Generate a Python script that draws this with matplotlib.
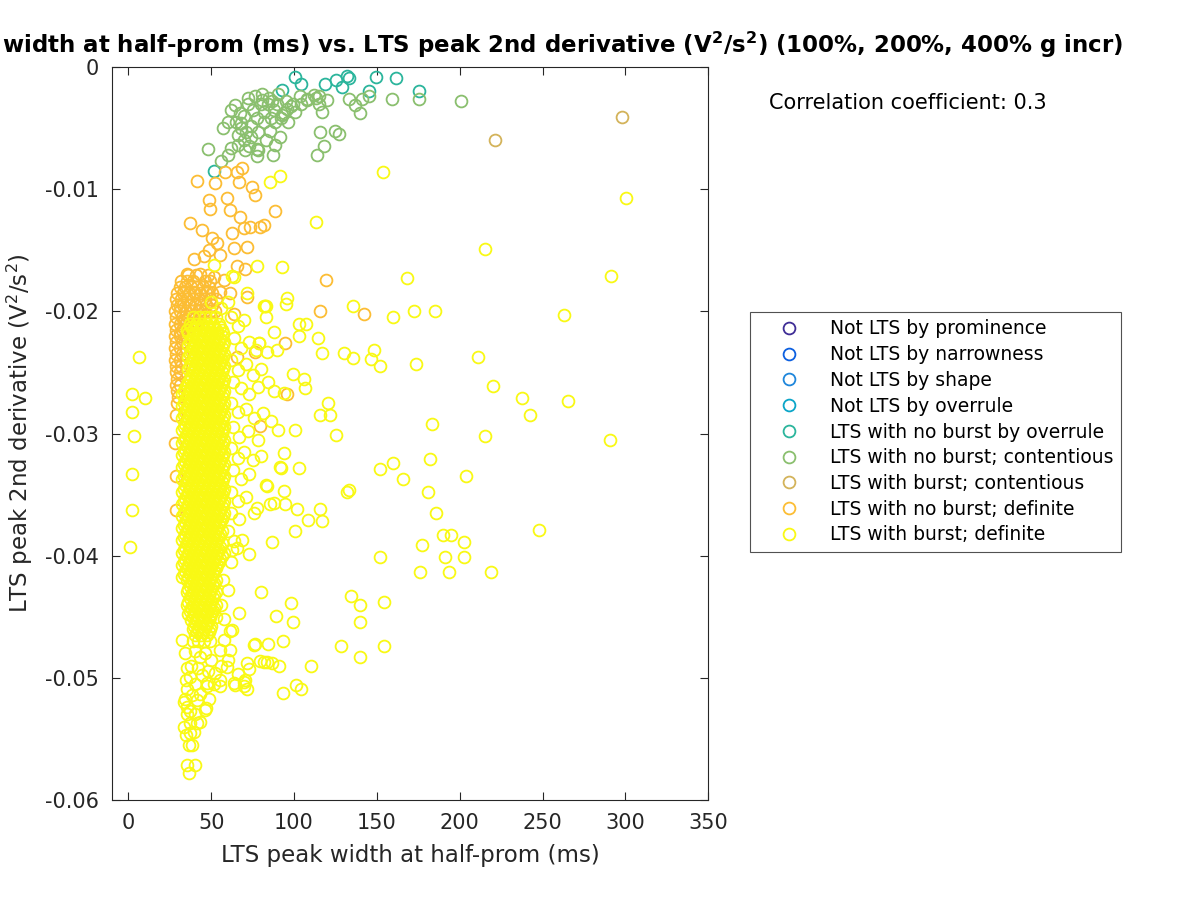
import matplotlib
matplotlib.use("Agg")
import matplotlib.pyplot as plt

# ---- data ----
# legend order: (label, colour)
class_labels = [
    "Not LTS by prominence",
    "Not LTS by narrowness",
    "Not LTS by shape",
    "Not LTS by overrule",
    "LTS with no burst by overrule",
    "LTS with no burst; contentious",
    "LTS with burst; contentious",
    "LTS with no burst; definite",
    "LTS with burst; definite",
]
class_colors = ["#3f2d96", "#0b5fe0", "#1e86db", "#0aa5c8", "#2bb59c",
                "#8abf6e", "#d3b35a", "#fcbd34", "#f9f914"]

# the first four classes have no points in this data set
not_lts_prominence = []
not_lts_narrowness = []
not_lts_shape = []
not_lts_overrule = []

# LTS with no burst by overrule (width ms, 2nd derivative V^2/s^2)
lts_noburst_overrule = [
    (100.4, -0.0008), (104, -0.0014), (92.5, -0.0019), (118.6, -0.0014),
    (125.3, -0.0011), (129, -0.0016), (132, -0.0007), (133, -0.0009),
    (149.6, -0.0008), (161.7, -0.0009), (145.3, -0.0020), (175.7, -0.0020),
    (52, -0.0085),
]

# LTS with no burst; contentious
lts_noburst_contentious = [
    (48.1, -0.0067), (57.2, -0.0050), (60.2, -0.0072), (64.2, -0.0031),
    (67.2, -0.0038), (68.3, -0.0046), (72.3, -0.0030), (71.3, -0.0053),
    (66.3, -0.0064), (70.3, -0.0068), (76.3, -0.0024), (80.4, -0.0022),
    (77.4, -0.0042), (78.4, -0.0053), (77.4, -0.0067), (77.4, -0.0073),
    (84.5, -0.0030), (86.5, -0.0028), (88.5, -0.0045), (85.4, -0.0052),
    (88.5, -0.0064), (87.5, -0.0072), (91.5, -0.0057), (92.5, -0.0039),
    (95.6, -0.0034), (96.6, -0.0045), (100.6, -0.0037), (103.6, -0.0024),
    (107.7, -0.0026), (111.8, -0.0023), (114.8, -0.0024), (116.8, -0.0037),
    (115.8, -0.0053), (117.8, -0.0065), (113.8, -0.0072), (124.9, -0.0052),
    (126.9, -0.0055), (133, -0.0026), (137, -0.0031), (140, -0.0038),
    (141, -0.0026), (145.1, -0.0024), (159.3, -0.0026), (175.5, -0.0026),
    (99.6, -0.0030), (90.5, -0.0022), (80.4, -0.0027), (200.5, -0.0028),
    (62, -0.0035), (65, -0.0045), (70, -0.0040), (74, -0.0048),
    (75, -0.0035), (80, -0.0030), (82, -0.0045), (83, -0.0060),
    (88, -0.0035), (90, -0.0030), (92, -0.0042), (70, -0.0060),
    (73, -0.0065), (78, -0.0068), (66, -0.0056), (62, -0.0066),
    (56, -0.0077), (85, -0.0025), (95, -0.0028), (98, -0.0032),
    (104, -0.0030), (108, -0.0027), (113, -0.0025), (115, -0.0030),
    (120, -0.0027), (60, -0.0045), (68, -0.0050), (74, -0.0057),
    (82, -0.0037), (86, -0.0042), (94, -0.0038), (72, -0.0025),
]

# LTS with burst; contentious
lts_burst_contentious = [(298, -0.0041), (221.3, -0.0060)]

# LTS with no burst; definite -- scattered points
lts_noburst_definite = [
    (41.5, -0.0093), (48.5, -0.0109), (49.5, -0.0116), (52.5, -0.0095),
    (58.5, -0.0086), (59.6, -0.0107), (61.6, -0.0117), (65.6, -0.0086),
    (68.6, -0.0083), (66.6, -0.0094), (74.7, -0.0098), (76.6, -0.0105),
    (67.6, -0.0123), (62.6, -0.0136), (69.6, -0.0132), (73.6, -0.0131),
    (79.7, -0.0131), (37.4, -0.0128), (44.5, -0.0133), (50.5, -0.0140),
    (53.5, -0.0144), (48.5, -0.0150), (39.4, -0.0157), (45.4, -0.0155),
    (55.5, -0.0154), (63.5, -0.0148), (71.6, -0.0147), (65.6, -0.0163),
    (70.6, -0.0165), (35.4, -0.0169), (43.5, -0.0169), (51.5, -0.0172),
    (57.5, -0.0174), (33.4, -0.0183), (39.4, -0.0184), (47.5, -0.0183),
    (55.5, -0.0184), (61.6, -0.0185), (31.4, -0.0196), (37.4, -0.0195),
    (43.5, -0.0199), (33.4, -0.0207), (39.4, -0.0210), (31.4, -0.0218),
    (63.5, -0.0202), (71.6, -0.0188), (115.5, -0.0200), (142, -0.0202),
    (119, -0.0174), (88.7, -0.0118), (81.7, -0.0129), (94.7, -0.0226),
    (76.6, -0.0233), (95.8, -0.0268), (79.7, -0.0294), (65.6, -0.0237),
    (28.5, -0.0335), (28.5, -0.0363), (28.4, -0.0308), (29, -0.0285),
]
# LTS with no burst; definite -- the packed band left of the main cluster
noburst_definite_rows = [
    (-0.0170, [36, 41, 48]),
    (-0.0175, [32, 35.5, 39, 46, 49.5]),
    (-0.0180, [31, 34.5, 38, 41.5, 45, 48.5]),
    (-0.0185, [29.5, 33, 36.5, 40, 43.5, 47, 50.5]),
    (-0.0190, [28.5, 32, 35.5, 39, 42.5, 46, 49.5, 53]),
    (-0.0195, [29.5, 33, 36.5, 40, 43.5, 47, 50.5]),
    (-0.0200, [28, 31.5, 35, 38.5, 42, 45.5, 49, 52.5]),
    (-0.0205, [29, 32.5, 36, 39.5, 43, 46.5, 50]),
    (-0.0210, [28, 31.5, 35, 38.5, 42]),
    (-0.0215, [29, 32.5, 36]),
    (-0.0220, [28, 31.5, 35]),
    (-0.0225, [29, 32.5]),
    (-0.0230, [28, 31.5]),
    (-0.0235, [29, 32.5]),
    (-0.0240, [28, 31.5]),
    (-0.0245, [29, 32]),
    (-0.0250, [28.5, 31.5]),
    (-0.0255, [29.5]),
    (-0.0260, [28.5, 31.5]),
    (-0.0265, [29.5]),
    (-0.0270, [30]),
    (-0.0275, [29.5]),
]

# LTS with burst; definite -- scattered points
lts_burst_definite = [
    (262.7, -0.0203), (211, -0.0237), (219.8, -0.0261), (237.6, -0.0271),
    (265.1, -0.0273), (242.6, -0.0285), (290.5, -0.0305), (215.1, -0.0302),
    (183.3, -0.0292), (173.4, -0.0243), (184.9, -0.0200), (172.2, -0.0200),
    (159.5, -0.0205), (135.4, -0.0196), (148.1, -0.0232), (146.6, -0.0239),
    (152.1, -0.0245), (135.6, -0.0238), (130.4, -0.0234), (116.9, -0.0234),
    (114.2, -0.0222), (103, -0.0210), (107, -0.0210), (87.7, -0.0217),
    (83.1, -0.0196), (83.1, -0.0205), (95.4, -0.0194), (79.1, -0.0226),
    (103, -0.0220), (99.4, -0.0251), (105.8, -0.0255), (106.8, -0.0263),
    (120.7, -0.0275), (115.5, -0.0285), (121.9, -0.0285), (125.5, -0.0301),
    (100.4, -0.0297), (90.3, -0.0297), (94.1, -0.0316), (92.1, -0.0328),
    (103, -0.0328), (83.1, -0.0342), (94.1, -0.0347), (85.3, -0.0358),
    (94.7, -0.0358), (101.8, -0.0362), (115.5, -0.0362), (116.9, -0.0372),
    (100.4, -0.0380), (108.2, -0.0371), (86.5, -0.0389), (72.6, -0.0399),
    (132, -0.0348), (133.4, -0.0346), (152.1, -0.0329), (159.7, -0.0324),
    (165.8, -0.0337), (182.3, -0.0321), (181, -0.0348), (185.9, -0.0365),
    (203.6, -0.0335), (189.7, -0.0383), (194.9, -0.0383), (202.4, -0.0389),
    (177.2, -0.0391), (152.1, -0.0401), (191.1, -0.0401), (202.4, -0.0401),
    (247.6, -0.0379), (175.8, -0.0413), (193.5, -0.0413), (218.9, -0.0413),
    (80.3, -0.0430), (98, -0.0439), (89.3, -0.0449), (99.4, -0.0454),
    (66.6, -0.0447), (134.6, -0.0433), (139.6, -0.0440), (154.5, -0.0438),
    (139.6, -0.0454), (93.1, -0.0470), (76.6, -0.0472), (84.3, -0.0472),
    (128.4, -0.0474), (154.5, -0.0474), (139.6, -0.0483), (79.7, -0.0486),
    (83.7, -0.0487), (86.7, -0.0488), (90.7, -0.0490), (110.4, -0.0490),
    (71.6, -0.0488), (72.6, -0.0493), (70.6, -0.0502), (71.6, -0.0509),
    (93.1, -0.0512), (101.1, -0.0506), (104.2, -0.0509),
    (153.5, -0.0086), (300.4, -0.0107), (215, -0.0149), (291.5, -0.0171),
    (113, -0.0127), (91.7, -0.0089), (85.7, -0.0094), (168.2, -0.0173),
    (92.8, -0.0164), (77.7, -0.0163), (63.5, -0.0172), (51.5, -0.0162),
    (95.8, -0.0189), (82.7, -0.0196), (62.6, -0.0171), (71.6, -0.0185),
    (81.7, -0.0196), (50, -0.0192), (56, -0.0197), (60, -0.0192),
    # near-zero widths
    (6.2, -0.0237), (2.2, -0.0268), (9.8, -0.0271), (2.2, -0.0282),
    (3.6, -0.0302), (2.2, -0.0333), (2.2, -0.0363), (1.2, -0.0393),
    # tail below the main cluster
    (35.4, -0.0571), (40.4, -0.0571), (36.4, -0.0578), (36.4, -0.0555),
    (34.7, -0.0547), (39.4, -0.0544), (43.5, -0.0536), (35.4, -0.0524),
    (46.7, -0.0525), (34.7, -0.0502), (47.5, -0.0504), (55.5, -0.0502),
    (63.5, -0.0504), (34.4, -0.0480), (43.5, -0.0483), (55.5, -0.0477),
    (61.6, -0.0462), (57.5, -0.0469), (62.6, -0.0461), (75.6, -0.0473),
    (81.7, -0.0487), (64.6, -0.0506), (55.5, -0.0507), (46.5, -0.0526),
    (41.5, -0.0537), (35.4, -0.0530), (34.4, -0.0517), (38.4, -0.0514),
    (43.5, -0.0513), (35.4, -0.0492), (32.4, -0.0469), (61.6, -0.0477),
    (59.6, -0.0491), (52.5, -0.0496), (44.5, -0.0498), (37.4, -0.0499),
    (35.4, -0.0509), (47.5, -0.0507), (41.5, -0.0518), (48.5, -0.0517),
    (37.4, -0.0537), (38.4, -0.0555), (69.6, -0.0507), (69.6, -0.0503),
    (40, -0.0478), (46, -0.0480), (50, -0.0485), (38, -0.0490),
    (42, -0.0492), (48, -0.0494), (56, -0.0490), (60, -0.0485),
    (66, -0.0497), (52, -0.0505), (40, -0.0505), (33.5, -0.0520),
    (37, -0.0527), (33.5, -0.0540), (37.5, -0.0545), (40, -0.0530),
    # right flank of the main cluster
    (78.6, -0.0226), (83.7, -0.0233), (89.7, -0.0232), (93.7, -0.0267),
    (91.7, -0.0327), (83.7, -0.0343), (87.7, -0.0357), (77.7, -0.0361),
    (75.6, -0.0365), (65.6, -0.0394), (68.6, -0.0387), (62.6, -0.0395),
    (62, -0.0205), (66, -0.0212), (70, -0.0207), (64, -0.0222),
    (68, -0.0230), (73, -0.0225), (77, -0.0232), (62, -0.0240),
    (66, -0.0248), (71, -0.0243), (75, -0.0252), (80, -0.0247),
    (63, -0.0258), (68, -0.0263), (73, -0.0268), (78, -0.0262),
    (84, -0.0258), (88, -0.0265), (62, -0.0275), (66, -0.0282),
    (71, -0.0280), (76, -0.0287), (81, -0.0283), (86, -0.0290),
    (63, -0.0295), (67, -0.0303), (72, -0.0298), (78, -0.0305),
    (62, -0.0312), (66, -0.0320), (70, -0.0315), (75, -0.0322),
    (80, -0.0318), (63, -0.0330), (68, -0.0337), (73, -0.0333),
    (62, -0.0348), (66, -0.0355), (71, -0.0352), (62, -0.0365),
    (67, -0.0370), (60, -0.0380), (64, -0.0388), (58, -0.0398),
    (62, -0.0405), (57, -0.0420), (60, -0.0428), (56, -0.0440),
    (58, -0.0452),
]
# LTS with burst; definite -- the solid core of the cluster, row by row
core_row_a = [33.5, 37, 40.5, 44, 47.5, 51, 54.5, 58]
core_row_b = [35.25, 38.75, 42.25, 45.75, 49.25, 52.75, 56.25]
core_row_c = [34.4, 37.9, 41.4, 44.9, 48.4, 51.9, 55.4]
core_row_d = [32.6, 36.1, 39.6, 43.1, 46.6, 50.1, 53.6, 57.1]
core_top_a = [37, 40.5, 44, 47.5, 51, 54.5, 58]
core_top_b = [38.75, 42.25, 45.75, 49.25, 52.75, 56.25]
core_top_c = [37.9, 41.4, 44.9, 48.4, 51.9, 55.4]
core_top_d = [36.1, 39.6, 43.1, 46.6, 50.1, 53.6, 57.1]
core_low_a = [37, 40.5, 44, 47.5, 51]
core_low_b = [35.25, 38.75, 42.25, 45.75, 49.25, 52.75]
core_low_c = [37.9, 41.4, 44.9, 48.4, 51.9]
core_low_d = [36.1, 39.6, 43.1, 46.6, 50.1]
core_tip_a = [40.5, 44, 47.5]
core_tip_b = [38.75, 42.25, 45.75, 49.25]
burst_definite_rows = [
    (-0.0205, [39, 42.5, 46, 49.5, 53]),
    (-0.0210, [37.25, 40.75, 44.25, 47.75, 51.25, 54.75]),
    (-0.0215, [35.5, 39, 42.5, 46, 49.5, 53, 56.5]),
    (-0.0220, core_top_b), (-0.0225, core_top_a),
    (-0.0230, core_top_b), (-0.0235, core_top_a),
    (-0.0240, core_top_b), (-0.0245, core_top_a),
    (-0.0250, core_top_b), (-0.0255, core_top_a),
    (-0.0260, core_row_b), (-0.0265, core_row_a),
    (-0.0270, core_row_b), (-0.0275, core_row_a),
    (-0.0280, core_row_b), (-0.0285, core_row_a),
    (-0.0290, core_row_b), (-0.0295, core_row_a),
    (-0.0300, core_row_b), (-0.0305, core_row_a),
    (-0.0310, core_row_b), (-0.0315, core_row_a),
    (-0.0320, core_row_b), (-0.0325, core_row_a),
    (-0.0330, core_row_b), (-0.0335, core_row_a),
    (-0.0340, core_row_b), (-0.0345, core_row_a),
    (-0.0350, core_row_b), (-0.0355, core_row_a),
    (-0.0360, core_row_b), (-0.0365, core_row_a),
    (-0.0370, core_row_b), (-0.0375, core_row_a[:-1]),
    (-0.0380, core_row_b), (-0.0385, core_row_a[:-1]),
    (-0.0390, core_row_b), (-0.0395, core_row_a[:-1]),
    (-0.0400, core_row_b), (-0.0405, core_row_a[:-1]),
    (-0.0410, core_row_b[:-1]), (-0.0415, core_row_a[:-2]),
    (-0.0420, core_low_b), (-0.0425, core_low_a),
    (-0.0430, core_low_b), (-0.0435, core_low_a),
    (-0.0440, core_low_b), (-0.0445, core_low_a),
    (-0.0450, core_low_b[1:]), (-0.0455, core_tip_a),
    (-0.0460, core_tip_b), (-0.0465, core_tip_a),
    (-0.0470, core_tip_b),
]
# extra in-between rows that close the gaps of the packed core
burst_definite_fill_rows = [
    (-0.02125, core_top_c), (-0.02175, core_top_d),
    (-0.02225, core_top_c), (-0.02275, core_top_d),
    (-0.02325, core_top_c), (-0.02375, core_top_d),
    (-0.02425, core_top_c), (-0.02475, core_top_d),
    (-0.02525, core_top_c), (-0.02575, core_top_d),
    (-0.02625, core_row_c), (-0.02675, core_row_d),
    (-0.02725, core_row_c), (-0.02775, core_row_d),
    (-0.02825, core_row_c), (-0.02875, core_row_d),
    (-0.02925, core_row_c), (-0.02975, core_row_d),
    (-0.03025, core_row_c), (-0.03075, core_row_d),
    (-0.03125, core_row_c), (-0.03175, core_row_d),
    (-0.03225, core_row_c), (-0.03275, core_row_d),
    (-0.03325, core_row_c), (-0.03375, core_row_d),
    (-0.03425, core_row_c), (-0.03475, core_row_d),
    (-0.03525, core_row_c), (-0.03575, core_row_d),
    (-0.03625, core_row_c), (-0.03675, core_row_d),
    (-0.03725, core_row_c), (-0.03775, core_row_d[:-1]),
    (-0.03825, core_row_c), (-0.03875, core_row_d[:-1]),
    (-0.03925, core_row_c), (-0.03975, core_row_d[:-1]),
    (-0.04025, core_row_c), (-0.04075, core_row_d[:-1]),
    (-0.04125, core_row_c[:-1]), (-0.04175, core_row_d[:-2]),
    (-0.04225, core_low_c), (-0.04275, core_low_d),
    (-0.04325, core_low_c), (-0.04375, core_low_d),
    (-0.04425, core_low_c), (-0.04475, core_low_d),
    (-0.04525, core_low_c[:-1]), (-0.04575, core_low_d[1:]),
    (-0.04625, core_low_c[1:-1]),
]

corr_coef = 0.3


def rows_to_points(rows):
    pts = []
    for y, xs in rows:
        for x in xs:
            pts.append((x, y))
    return pts


def main():
    plt.rcParams["font.family"] = "DejaVu Sans"
    plt.rcParams["axes.unicode_minus"] = False
    plt.rcParams["mathtext.default"] = "regular"
    text_col = "#262626"

    fig = plt.figure(figsize=(12, 9), dpi=100)
    ax = fig.add_axes([0.0931, 0.1111, 0.4972, 0.8144])

    series = [
        not_lts_prominence,
        not_lts_narrowness,
        not_lts_shape,
        not_lts_overrule,
        lts_noburst_overrule,
        lts_noburst_contentious,
        lts_burst_contentious,
        rows_to_points(noburst_definite_rows) + lts_noburst_definite,
        (rows_to_points(burst_definite_rows)
         + rows_to_points(burst_definite_fill_rows) + lts_burst_definite),
    ]

    handles = []
    for pts, label, col in zip(series, class_labels, class_colors):
        xs = [p[0] for p in pts]
        ys = [p[1] for p in pts]
        h, = ax.plot(xs, ys, linestyle="none", marker="o", markersize=8.5,
                     markerfacecolor="none", markeredgecolor=col,
                     markeredgewidth=1.3, label=label)
        handles.append(h)

    # axes styling (MATLAB-like box with inward ticks)
    ax.set_xlim(-10, 350)
    ax.set_ylim(-0.06, 0)
    ax.set_xticks([0, 50, 100, 150, 200, 250, 300, 350])
    ax.set_yticks([-0.06, -0.05, -0.04, -0.03, -0.02, -0.01, 0])
    ax.set_yticklabels(["-0.06", "-0.05", "-0.04", "-0.03", "-0.02", "-0.01", "0"])
    ax.tick_params(direction="in", top=True, right=True, length=6, width=0.8,
                   labelsize=15, colors=text_col, pad=9)
    for sp in ax.spines.values():
        sp.set_linewidth(0.8)
        sp.set_color(text_col)

    ax.set_xlabel("LTS peak width at half-prom (ms)", fontsize=16.5,
                  color=text_col, labelpad=8)
    ax.set_ylabel("LTS peak 2nd derivative (V$^2$/s$^2$)", fontsize=16.5,
                  color=text_col, labelpad=7)

    # title is wider than the figure, so it gets cut on the left like the original
    fig.text(1123 / 1200, 0.950,
             "LTS peak width at half-prom (ms) vs. LTS peak 2nd derivative "
             "(V$^2$/s$^2$) (100%, 200%, 400% g incr)",
             ha="right", va="center", fontsize=16.5, fontweight="bold",
             color="black")

    fig.text(769 / 1200, 1 - 103 / 900,
             "Correlation coefficient: %g" % corr_coef,
             ha="left", va="center", fontsize=15, color="black")

    leg = ax.legend(handles=handles, loc="upper left",
                    bbox_to_anchor=(750 / 1200, 1 - 312 / 900),
                    bbox_transform=fig.transFigure, fontsize=13.5,
                    frameon=True, fancybox=False, borderpad=0.4,
                    handlelength=3.4, handletextpad=0.45, labelspacing=0.36,
                    borderaxespad=0)
    leg.get_frame().set_edgecolor(text_col)
    leg.get_frame().set_linewidth(0.8)
    for t in leg.get_texts():
        t.set_color("black")

    fig.savefig("out.png", dpi=100)


if __name__ == "__main__":
    main()
